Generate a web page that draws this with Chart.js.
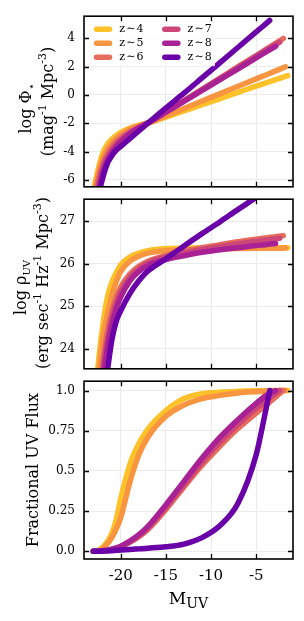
<!DOCTYPE html>
<html>
<head>
<meta charset="utf-8">
<script src="https://cdn.jsdelivr.net/npm/chart.js@4.4.1/dist/chart.umd.min.js"></script>
<style>
  html, body { margin: 0; padding: 0; background: #fff; }
  #wrap { position: relative; width: 304px; height: 621px; overflow: hidden; }
  #wrap canvas { position: absolute; left: 0; }
</style>
</head>
<body>
<div id="wrap">
  <canvas id="phiChart" width="304" height="203" style="top:0px"></canvas>
  <canvas id="rhoChart" width="304" height="202" style="top:183px"></canvas>
  <canvas id="fracChart" width="304" height="256" style="top:365px"></canvas>
</div>
<script>
// redshift bins (two curves are labelled z~8 in the original)
const zLabels = ['z\u200a\u223c\u200a4', 'z\u200a\u223c\u200a5', 'z\u200a\u223c\u200a6',
                 'z\u200a\u223c\u200a7', 'z\u200a\u223c\u200a8', 'z\u200a\u223c\u200a8'];
const zColors = ['#fdc12a', '#f89540', '#e66c5c', '#cc4778', '#a82296', '#6a00a8'];

// magnitude grid shared by all curves, plus the faint-end limit of each curve
const magGrid = [-23.05, -22.8, -22.4, -22.0, -21.5, -21.0, -20.5, -20.0, -19.0, -18.0,
                 -17.0, -15.0, -13.0, -11.0, -9.0, -7.0, -5.0, -4.0];
const magEnd = [-1.5, -1.75, -2.0, -2.4, -2.85, -3.5];

// axis range and ticks
const xMin = -24.08, xMax = -0.92;
const xTicks = [-20, -15, -10, -5];

// panel 1: log Phi*
const phiZ4  = [-6.9, -6.05, -4.95, -4.1, -3.5, -3.12, -2.86, -2.65, -2.33, -2.13, -1.98, -1.56, -1.13, -0.69, -0.26, 0.18, 0.62, 0.83, 1.36];
const phiZ5  = [-7.2, -6.4, -5.3, -4.5, -3.82, -3.38, -3.06, -2.8, -2.41, -2.18, -2.0, -1.48, -0.96, -0.43, 0.09, 0.61, 1.13, 1.39, 1.98];
const phiZ6  = [-7.6, -6.9, -5.75, -4.85, -4.15, -3.65, -3.28, -3.0, -2.58, -2.26, -1.98, -1.2, -0.4, 0.39, 1.19, 1.99, 2.78, 3.18, 3.98];
const phiZ7  = [-8.2, -7.4, -6.1, -5.15, -4.4, -3.87, -3.47, -3.15, -2.66, -2.29, -1.98, -1.2, -0.42, 0.37, 1.16, 1.95, 2.73, 3.12, 3.72];
const phiZ8  = [-8.8, -7.8, -6.5, -5.45, -4.62, -4.07, -3.65, -3.31, -2.76, -2.33, -1.98, -1.22, -0.46, 0.31, 1.08, 1.84, 2.61, 3.0, 3.43];
const phiZ8b = [-10.5, -8.3, -6.9, -5.85, -4.85, -4.3, -3.9, -3.63, -3.08, -2.54, -2.0, -0.92, 0.12, 1.2, 2.28, 3.36, 4.44, 4.98, 5.25];
const phiTicks = [-6, -4, -2, 0, 2, 4];

// panel 2: log rho_UV
const rhoZ4  = [22.0, 22.9, 23.85, 24.55, 25.2, 25.56, 25.79, 25.98, 26.16, 26.25, 26.31, 26.36, 26.37, 26.375, 26.38, 26.38, 26.38, 26.38, 26.38];
const rhoZ5  = [21.8, 22.6, 23.55, 24.25, 24.8, 25.25, 25.58, 25.82, 26.06, 26.18, 26.25, 26.31, 26.33, 26.345, 26.35, 26.36, 26.365, 26.365, 26.37];
const rhoZ6  = [21.0, 21.9, 22.9, 23.7, 24.4, 24.88, 25.22, 25.46, 25.76, 25.94, 26.06, 26.2, 26.3, 26.38, 26.45, 26.52, 26.58, 26.61, 26.66];
const rhoZ7  = [20.7, 21.6, 22.6, 23.45, 24.2, 24.72, 25.08, 25.35, 25.68, 25.88, 26.02, 26.16, 26.26, 26.34, 26.41, 26.47, 26.53, 26.56, 26.6];
const rhoZ8  = [20.4, 21.3, 22.3, 23.2, 24.0, 24.55, 24.94, 25.22, 25.6, 25.82, 25.96, 26.1, 26.19, 26.27, 26.33, 26.38, 26.43, 26.45, 26.48];
const rhoZ8b = [19.5, 20.5, 21.6, 22.6, 23.45, 24.2, 24.65, 24.9, 25.3, 25.6, 25.83, 26.12, 26.42, 26.71, 26.99, 27.28, 27.56, 27.71, 27.78];
const rhoTicks = [24, 25, 26, 27];

// panel 3: fractional UV flux
const fracZ4  = [0, 0.002, 0.008, 0.025, 0.06, 0.11, 0.2, 0.33, 0.54, 0.67, 0.76, 0.875, 0.95, 0.98, 0.99, 0.995, 0.998, 0.999, 1.0];
const fracZ5  = [0, 0.002, 0.006, 0.018, 0.045, 0.085, 0.14, 0.21, 0.43, 0.6, 0.71, 0.84, 0.91, 0.95, 0.97, 0.985, 0.993, 0.996, 1.0];
const fracZ6  = [0, 0, 0.001, 0.003, 0.006, 0.011, 0.018, 0.028, 0.055, 0.09, 0.135, 0.26, 0.4, 0.535, 0.655, 0.765, 0.86, 0.905, 1.0];
const fracZ7  = [0, 0, 0.001, 0.003, 0.007, 0.012, 0.02, 0.03, 0.06, 0.097, 0.145, 0.275, 0.415, 0.555, 0.68, 0.79, 0.89, 0.935, 1.0];
const fracZ8  = [0, 0, 0.001, 0.003, 0.007, 0.013, 0.021, 0.032, 0.063, 0.103, 0.155, 0.29, 0.435, 0.58, 0.71, 0.82, 0.92, 0.965, 1.0];
const fracZ8b = [0, 0, 0.0005, 0.001, 0.002, 0.004, 0.006, 0.008, 0.011, 0.015, 0.019, 0.028, 0.045, 0.085, 0.16, 0.3, 0.6, 0.86, 1.0];
const fracTicks = [0, 0.25, 0.5, 0.75, 1.0];
const fracTickText = ['0.0', '0.25', '0.5', '0.75', '1.0'];

const SERIF = '"DejaVu Serif", "Liberation Serif", serif';
const gridColor = '#ebebeb';

// text with sub/superscripts, centred on the anchor, baseline at the anchor
function drawRich(ctx, parts, ax, ay, vertical) {
  ctx.save();
  ctx.translate(ax, ay);
  if (vertical) ctx.rotate(-Math.PI / 2);
  let total = 0;
  parts.forEach(p => {
    ctx.font = p.size + 'px ' + SERIF;
    p.w = ctx.measureText(p.t).width;
    total += p.w;
  });
  let x = -total / 2;
  ctx.fillStyle = '#000';
  ctx.textBaseline = 'alphabetic';
  ctx.textAlign = 'left';
  parts.forEach(p => {
    ctx.font = p.size + 'px ' + SERIF;
    ctx.fillText(p.t, x, p.dy || 0);
    x += p.w;
  });
  ctx.restore();
}

// box outline and inward ticks on all four sides
const frameTicks = {
  id: 'frameTicks',
  afterDraw(chart) {
    const { ctx, chartArea: a, scales } = chart;
    ctx.save();
    ctx.strokeStyle = '#000';
    ctx.lineWidth = 1.3;
    ctx.beginPath();
    scales.x.ticks.forEach(t => {
      const px = Math.round(scales.x.getPixelForValue(t.value)) + 0.5;
      ctx.moveTo(px, a.top); ctx.lineTo(px, a.top + 5);
      ctx.moveTo(px, a.bottom); ctx.lineTo(px, a.bottom - 5);
    });
    scales.y.ticks.forEach(t => {
      const py = Math.round(scales.y.getPixelForValue(t.value)) + 0.5;
      ctx.moveTo(a.left, py); ctx.lineTo(a.left + 5, py);
      ctx.moveTo(a.right, py); ctx.lineTo(a.right - 5, py);
    });
    ctx.stroke();
    ctx.lineWidth = 1.6;
    ctx.strokeRect(a.left, a.top, a.right - a.left, a.bottom - a.top);
    ctx.restore();
  }
};

// two-column legend in the top-left corner of the first panel
const cornerLegend = {
  id: 'cornerLegend',
  afterDatasetsDraw(chart) {
    const { ctx, chartArea: a } = chart;
    ctx.save();
    ctx.fillStyle = 'rgba(255,255,255,0.8)';
    ctx.fillRect(a.left + 5, a.top + 4, 126, 46);
    chart.data.datasets.forEach((ds, i) => {
      const col = Math.floor(i / 3), row = i % 3;
      const x0 = a.left + 12.5 + col * 68.3;
      const yc = a.top + 13 + row * 14;
      ctx.strokeStyle = ds.borderColor;
      ctx.lineWidth = 5.5;
      ctx.lineCap = 'round';
      ctx.beginPath();
      ctx.moveTo(x0, yc); ctx.lineTo(x0 + 13, yc);
      ctx.stroke();
      ctx.fillStyle = '#000';
      ctx.font = '11px ' + SERIF;
      ctx.textBaseline = 'middle';
      ctx.fillText(ds.label, x0 + 22.8, yc);
    });
    ctx.restore();
  }
};

function titlePlugin(lines) {
  return {
    id: 'axisTitles',
    afterDraw(chart) {
      const a = chart.chartArea;
      const mid = (a.top + a.bottom) / 2;
      lines.forEach(l => {
        if (l.vertical) drawRich(chart.ctx, l.parts, l.base, mid + l.shift, true);
        else drawRich(chart.ctx, l.parts, (a.left + a.right) / 2, a.bottom + l.base, false);
      });
    }
  };
}

function buildPanel(canvasId, series, yMin, yMax, yTicks, yTickText, cfg) {
  const datasets = series.map((vals, i) => ({
    label: zLabels[i],
    data: magGrid.concat([magEnd[i]]).map((m, j) => ({ x: m, y: vals[j] })),
    borderColor: zColors[i],
    backgroundColor: zColors[i],
    borderWidth: 5.5,
    pointRadius: 0,
    borderCapStyle: 'round',
    borderJoinStyle: 'round',
    cubicInterpolationMode: 'monotone',
    clip: 0,
    order: -i
  }));

  return new Chart(document.getElementById(canvasId), {
    type: 'line',
    data: { datasets: datasets },
    options: {
      responsive: false,
      animation: false,
      events: [],
      layout: { padding: { top: cfg.padTop, bottom: 0, left: 0, right: 11 } },
      plugins: { legend: { display: false }, tooltip: { enabled: false } },
      scales: {
        x: {
          type: 'linear',
          min: xMin,
          max: xMax,
          afterBuildTicks: s => { s.ticks = xTicks.map(v => ({ value: v })); },
          afterFit: s => { s.height = cfg.xHeight; },
          grid: { color: gridColor, lineWidth: 1, drawTicks: false },
          border: { display: false },
          ticks: {
            display: cfg.showX,
            autoSkip: false,
            maxRotation: 0,
            padding: 8,
            color: '#000',
            font: { family: SERIF, size: 15 },
            callback: v => String(v)
          }
        },
        y: {
          type: 'linear',
          min: yMin,
          max: yMax,
          afterBuildTicks: s => { s.ticks = yTicks.map(v => ({ value: v })); },
          afterFit: s => { s.width = 84; },
          grid: { color: gridColor, lineWidth: 1, drawTicks: false },
          border: { display: false },
          ticks: {
            autoSkip: false,
            padding: 9,
            color: '#000',
            font: { family: SERIF, size: 12 },
            callback: (v, idx) => yTickText[idx]
          }
        }
      }
    },
    plugins: [frameTicks].concat(cfg.extraPlugins)
  });
}

buildPanel('phiChart', [phiZ4, phiZ5, phiZ6, phiZ7, phiZ8, phiZ8b], -6.48, 5.55,
  phiTicks, phiTicks.map(String), {
    padTop: 11, xHeight: 10, showX: false,
    extraPlugins: [cornerLegend, titlePlugin([
      { vertical: true, base: 31, shift: 7, parts: [
        { t: 'log \u03a6', size: 16 }, { t: '\u22c6', size: 11, dy: 4 }] },
      { vertical: true, base: 53, shift: 0, parts: [
        { t: '(mag', size: 16 }, { t: '-1', size: 11, dy: -7 },
        { t: ' Mpc', size: 16 }, { t: '-3', size: 11, dy: -7 }, { t: ')', size: 16 }] }
    ])]
  });

buildPanel('rhoChart', [rhoZ4, rhoZ5, rhoZ6, rhoZ7, rhoZ8, rhoZ8b], 23.53, 27.52,
  rhoTicks, rhoTicks.map(String), {
    padTop: 10, xHeight: 10, showX: false,
    extraPlugins: [titlePlugin([
      { vertical: true, base: 26, shift: 3.5, parts: [
        { t: 'log \u03c1', size: 16 }, { t: 'UV', size: 10, dy: 4 }] },
      { vertical: true, base: 48, shift: -1, parts: [
        { t: '(erg sec', size: 16 }, { t: '-1', size: 11, dy: -7 },
        { t: ' Hz', size: 16 }, { t: '-1', size: 11, dy: -7 },
        { t: ' Mpc', size: 16 }, { t: '-3', size: 11, dy: -7 }, { t: ')', size: 16 }] }
    ])]
  });

buildPanel('fracChart', [fracZ4, fracZ5, fracZ6, fracZ7, fracZ8, fracZ8b], -0.048, 1.058,
  fracTicks, fracTickText, {
    padTop: 10, xHeight: 62, showX: true,
    extraPlugins: [titlePlugin([
      { vertical: true, base: 38.3, shift: 0, parts: [{ t: 'Fractional UV Flux', size: 16 }] },
      { vertical: false, base: 45, parts: [{ t: 'M', size: 17 }, { t: 'UV', size: 14, dy: 4.3 }] }
    ])]
  });
</script>
</body>
</html>
